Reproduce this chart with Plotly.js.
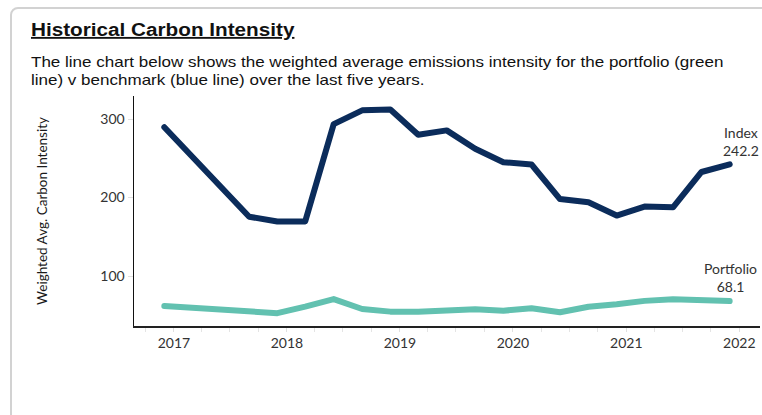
<!DOCTYPE html>
<html>
<head>
<meta charset="utf-8">
<script src="https://cdn.plot.ly/plotly-3.0.1.min.js"></script>
<style>
  html, body { margin: 0; padding: 0; background: #ffffff; overflow: hidden; }
  #card { position: absolute; left: 10px; top: 7px; width: 820px; height: 520px;
          border: 2px solid #d2d2d2; border-radius: 8px; box-sizing: border-box; }
  #chart { position: absolute; left: 0; top: 0; width: 762px; height: 415px; }
</style>
</head>
<body>
<div id="card"></div>
<div id="chart"></div>
<script>
// Quarterly observation dates
const dates = [
  '2016-12-01','2017-03-01','2017-06-01','2017-09-01',
  '2017-12-01','2018-03-01','2018-06-01','2018-09-01',
  '2018-12-01','2019-03-01','2019-06-01','2019-09-01',
  '2019-12-01','2020-03-01','2020-06-01','2020-09-01',
  '2020-12-01','2021-03-01','2021-06-01','2021-09-01',
  '2021-12-01'
];
// Benchmark (blue line)
const indexValues = [
  289.5, 251.5, 213.5, 175.5,
  169.5, 169.5, 293.5, 311.0,
  312.0, 280.0, 285.5, 262.0,
  245.0, 242.0, 198.0, 194.0,
  177.0, 188.5, 187.5, 232.5,
  242.2
];
// Portfolio (green line)
const portfolioValues = [
  61.8, 59.8, 57.8, 55.6,
  52.6, 61.0, 70.6, 58.0,
  54.6, 54.5, 55.8, 57.6,
  55.8, 58.8, 53.8, 60.9,
  63.9, 68.3, 70.5, 69.7,
  68.1
];
const yTickVals = [100, 200, 300];
const seriesNames = ['Index', 'Portfolio'];
const titleText = 'Historical Carbon Intensity';
const subtitleLines = [
  'The line chart below shows the weighted average emissions intensity for the portfolio (green',
  'line) v benchmark (blue line) over the last five years.'
];

const chartFont = 'Lato, "Open Sans", sans-serif';
const tickFont = { family: chartFont, size: 14, color: '#333333' };
const headFont = '"Liberation Sans", Arial, sans-serif';

const traces = [
  { x: dates, y: indexValues, name: seriesNames[0], type: 'scatter', mode: 'lines',
    line: { color: '#0b2c5b', width: 6 }, hoverinfo: 'skip' },
  { x: dates, y: portfolioValues, name: seriesNames[1], type: 'scatter', mode: 'lines',
    line: { color: '#62c1b0', width: 6 }, hoverinfo: 'skip' }
];

const last = dates.length - 1;

const layout = {
  width: 762, height: 415,
  margin: { l: 134, r: 2, t: 96, b: 89 },
  paper_bgcolor: 'rgba(0,0,0,0)',
  plot_bgcolor: 'rgba(0,0,0,0)',
  showlegend: false,
  xaxis: {
    type: 'date',
    range: ['2016-08-25', '2022-03-09'],
    tick0: '2017-01-01', dtick: 'M12', tickformat: '%Y',
    ticks: 'outside', ticklen: 4, tickcolor: '#e0e0e0', tickwidth: 1,
    minor: { dtick: 'M3', tick0: '2017-01-01', ticks: 'outside', ticklen: 4, tickcolor: '#e4e4e4', tickwidth: 1 },
    showgrid: false, zeroline: false,
    showline: true, linecolor: '#222222', linewidth: 1.5,
    tickfont: tickFont, ticklabelstandoff: 0
  },
  yaxis: {
    range: [36.3, 329.3],
    tickvals: yTickVals,
    ticks: 'outside', ticklen: 5, tickcolor: '#e0e0e0', tickwidth: 1,
    showgrid: false, zeroline: false,
    showline: true, linecolor: '#111111', linewidth: 1.5,
    tickfont: tickFont,
    title: { text: 'Weighted Avg. Carbon Intensity', standoff: 49,
             font: { family: chartFont, size: 13.5, color: '#1a1a1a' } }
  },
  annotations: [
    { xref: 'paper', yref: 'paper', x: -0.168, y: 1.287, xanchor: 'left', yanchor: 'middle',
      showarrow: false, align: 'left',
      text: '<b><u>' + titleText + '</u></b>',
      font: { family: headFont, size: 18.5, color: '#111111' } },
    { xref: 'paper', yref: 'paper', x: -0.168, y: 1.1087, xanchor: 'left', yanchor: 'middle',
      showarrow: false, align: 'left',
      text: subtitleLines.join('<br>'),
      font: { family: headFont, size: 14, color: '#111111' } },
    { x: dates[last], y: indexValues[last], xref: 'x', yref: 'y',
      xanchor: 'center', yanchor: 'bottom', xshift: 11, yshift: 3, showarrow: false,
      text: seriesNames[0] + '<br>' + indexValues[last].toFixed(1),
      font: { family: chartFont, size: 14, color: '#333333' } },
    { x: dates[last], y: portfolioValues[last], xref: 'x', yref: 'y',
      xanchor: 'center', yanchor: 'bottom', xshift: 1, yshift: 4, showarrow: false,
      text: seriesNames[1] + '<br>' + portfolioValues[last].toFixed(1),
      font: { family: chartFont, size: 14, color: '#333333' } }
  ]
};

// horizontal stretch of the header texts (the reference header is rendered wide)
const headStretch = { 0: 1.12, 1: 1.216 };

Plotly.newPlot('chart', traces, layout, { staticPlot: true, displayModeBar: false }).then(function () {
  document.querySelectorAll('#chart .js-line').forEach(function (p) {
    p.style.strokeLinecap = 'round';
    p.style.strokeLinejoin = 'round';
  });
  document.querySelectorAll('#chart .annotation').forEach(function (g) {
    const idx = g.getAttribute('data-index');
    const s = headStretch[idx];
    if (!s) return;
    const t = g.querySelector('text.annotation-text');
    if (!t) return;
    const bb = t.getBBox();
    const x0 = bb.x;
    t.setAttribute('transform', 'translate(' + x0 + ',0) scale(' + s + ',1) translate(' + (-x0) + ',0)');
  });
});
</script>
</body>
</html>
